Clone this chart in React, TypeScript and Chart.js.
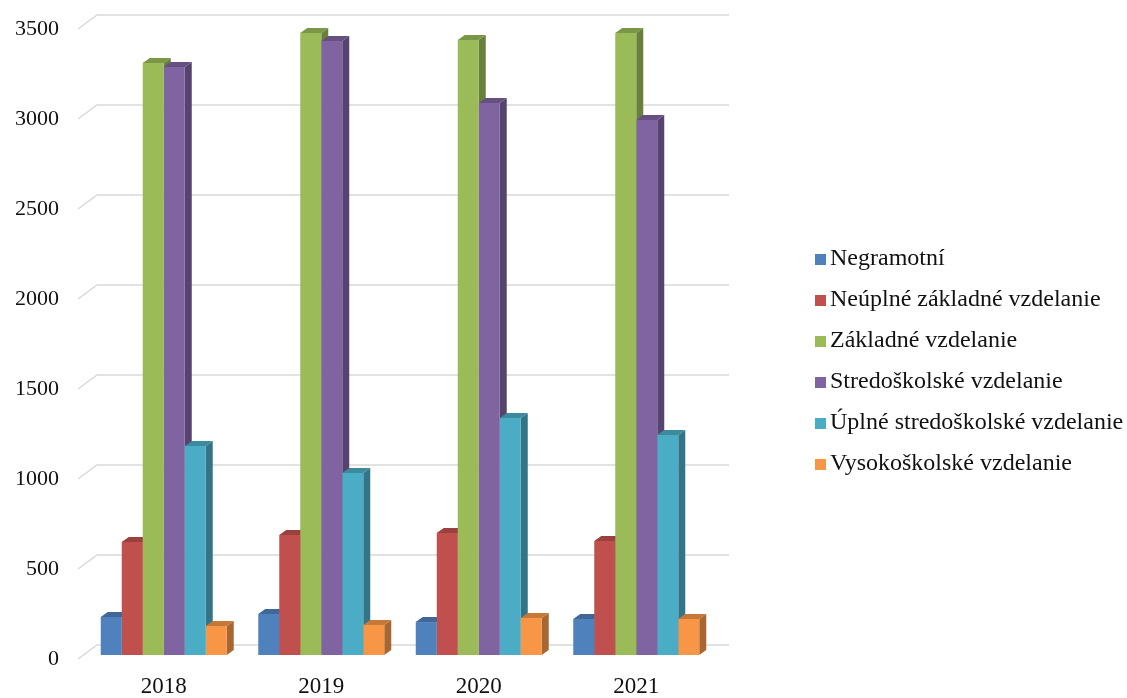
import React, { useEffect, useRef } from 'react';
import { Chart, registerables } from 'chart.js';

Chart.register(...registerables);

// ---- data ----
const categories = ['2018', '2019', '2020', '2021'];
const seriesNames = [
  'Negramotní',
  'Neúplné základné vzdelanie',
  'Základné vzdelanie',
  'Stredoškolské vzdelanie',
  'Úplné stredoškolské vzdelanie',
  'Vysokoškolské vzdelanie',
];
const negramotni = [211, 228, 183, 200];
const neuplneZakladne = [628, 667, 678, 633];
const zakladne = [3289, 3456, 3417, 3456];
const stredoskolske = [3267, 3411, 3067, 2972];
const uplneStredoskolske = [1161, 1011, 1317, 1222];
const vysokoskolske = [161, 167, 206, 200];
const seriesValues = [negramotni, neuplneZakladne, zakladne, stredoskolske, uplneStredoskolske, vysokoskolske];
const seriesColors = ['#4F81BD', '#C0504D', '#9BBB59', '#8064A2', '#4BACC6', '#F79646'];
const yTickValues = [0, 500, 1000, 1500, 2000, 2500, 3000, 3500];

const FONT = "'Liberation Serif', 'Times New Roman', serif";
const DX = 7;
const DY = 5;

function shade(hex: string, f: number): string {
  const n = parseInt(hex.slice(1), 16);
  const r = Math.round(((n >> 16) & 255) * f);
  const g = Math.round(((n >> 8) & 255) * f);
  const b = Math.round((n & 255) * f);
  return `rgb(${r},${g},${b})`;
}

const threeDPlugin = {
  id: 'threeD',
  beforeDatasetsDraw(chart: any) {
    const { ctx, chartArea } = chart;
    const yScale = chart.scales.y;
    ctx.save();
    // back wall grid lines
    ctx.strokeStyle = '#d9d9d9';
    ctx.lineWidth = 1.5;
    for (const v of yTickValues) {
      const py = yScale.getPixelForValue(v);
      ctx.beginPath();
      ctx.moveTo(chartArea.left - 7, py + 4);
      ctx.lineTo(chartArea.left + 12, py - 10);
      ctx.lineTo(chartArea.right + 14, py - 10);
      ctx.stroke();
    }
    const metas = chart.data.datasets.map((_: any, i: number) => chart.getDatasetMeta(i));
    // side faces
    metas.forEach((meta: any, di: number) => {
      ctx.fillStyle = shade(seriesColors[di], 0.68);
      meta.data.forEach((bar: any) => {
        const p = bar.getProps(['x', 'y', 'base', 'width'], true);
        const r = p.x + p.width / 2;
        ctx.beginPath();
        ctx.moveTo(r, p.y);
        ctx.lineTo(r + DX, p.y - DY);
        ctx.lineTo(r + DX, p.base - DY);
        ctx.lineTo(r, p.base);
        ctx.closePath();
        ctx.fill();
      });
    });
    // top faces
    metas.forEach((meta: any, di: number) => {
      ctx.fillStyle = shade(seriesColors[di], 0.8);
      meta.data.forEach((bar: any) => {
        const p = bar.getProps(['x', 'y', 'base', 'width'], true);
        const l = p.x - p.width / 2;
        const r = p.x + p.width / 2;
        ctx.beginPath();
        ctx.moveTo(l, p.y);
        ctx.lineTo(l + DX, p.y - DY);
        ctx.lineTo(r + DX, p.y - DY);
        ctx.lineTo(r, p.y);
        ctx.closePath();
        ctx.fill();
      });
    });
    ctx.restore();
  },
  afterDraw(chart: any) {
    const { ctx } = chart;
    ctx.save();
    ctx.font = `24px ${FONT}`;
    ctx.textBaseline = 'middle';
    ctx.textAlign = 'left';
    chart.data.datasets.forEach((ds: any, i: number) => {
      const cy = 259 + i * 41;
      ctx.fillStyle = ds.backgroundColor;
      ctx.fillRect(815, cy - 5, 11, 11);
      ctx.fillStyle = '#111';
      ctx.fillText(ds.label, 830, cy);
    });
    ctx.restore();
  },
};

export default function App() {
  const canvasRef = useRef<HTMLCanvasElement | null>(null);

  useEffect(() => {
    if (!canvasRef.current) return;
    const chart = new Chart(canvasRef.current, {
      type: 'bar',
      data: {
        labels: categories,
        datasets: seriesNames.map((name, i) => ({
          label: name,
          data: seriesValues[i],
          backgroundColor: seriesColors[i],
          borderWidth: 0,
          categoryPercentage: 0.8,
          barPercentage: 1.0,
        })),
      },
      options: {
        animation: false,
        responsive: false,
        maintainAspectRatio: false,
        layout: { padding: { top: 25, left: 0, right: 412, bottom: 0 } },
        plugins: {
          legend: { display: false },
          tooltip: { enabled: false },
          title: { display: false },
        },
        scales: {
          x: {
            grid: { display: false, drawTicks: false },
            border: { display: false },
            ticks: { color: '#111', font: { family: FONT, size: 23 }, padding: 18 },
            afterFit: (s: any) => { s.height = 43; },
          },
          y: {
            min: 0,
            max: 3500,
            grid: { display: false, drawTicks: false },
            border: { display: false },
            ticks: {
              stepSize: 500,
              color: '#111',
              font: { family: FONT, size: 22 },
              padding: 26,
              labelOffset: 4,
              callback: (v: any) => String(v),
            },
            afterFit: (s: any) => {
              s.width = 85;
              s.paddingTop = 0;
              s.paddingBottom = 0;
            },
          },
        },
      },
      plugins: [threeDPlugin],
    });
    return () => chart.destroy();
  }, []);

  return (
    <div style={{ position: 'fixed', left: 0, top: 0, width: 1127, height: 698, background: '#fff' }}>
      <canvas ref={canvasRef} width={1127} height={698} style={{ display: 'block', width: 1127, height: 698 }} />
    </div>
  );
}
